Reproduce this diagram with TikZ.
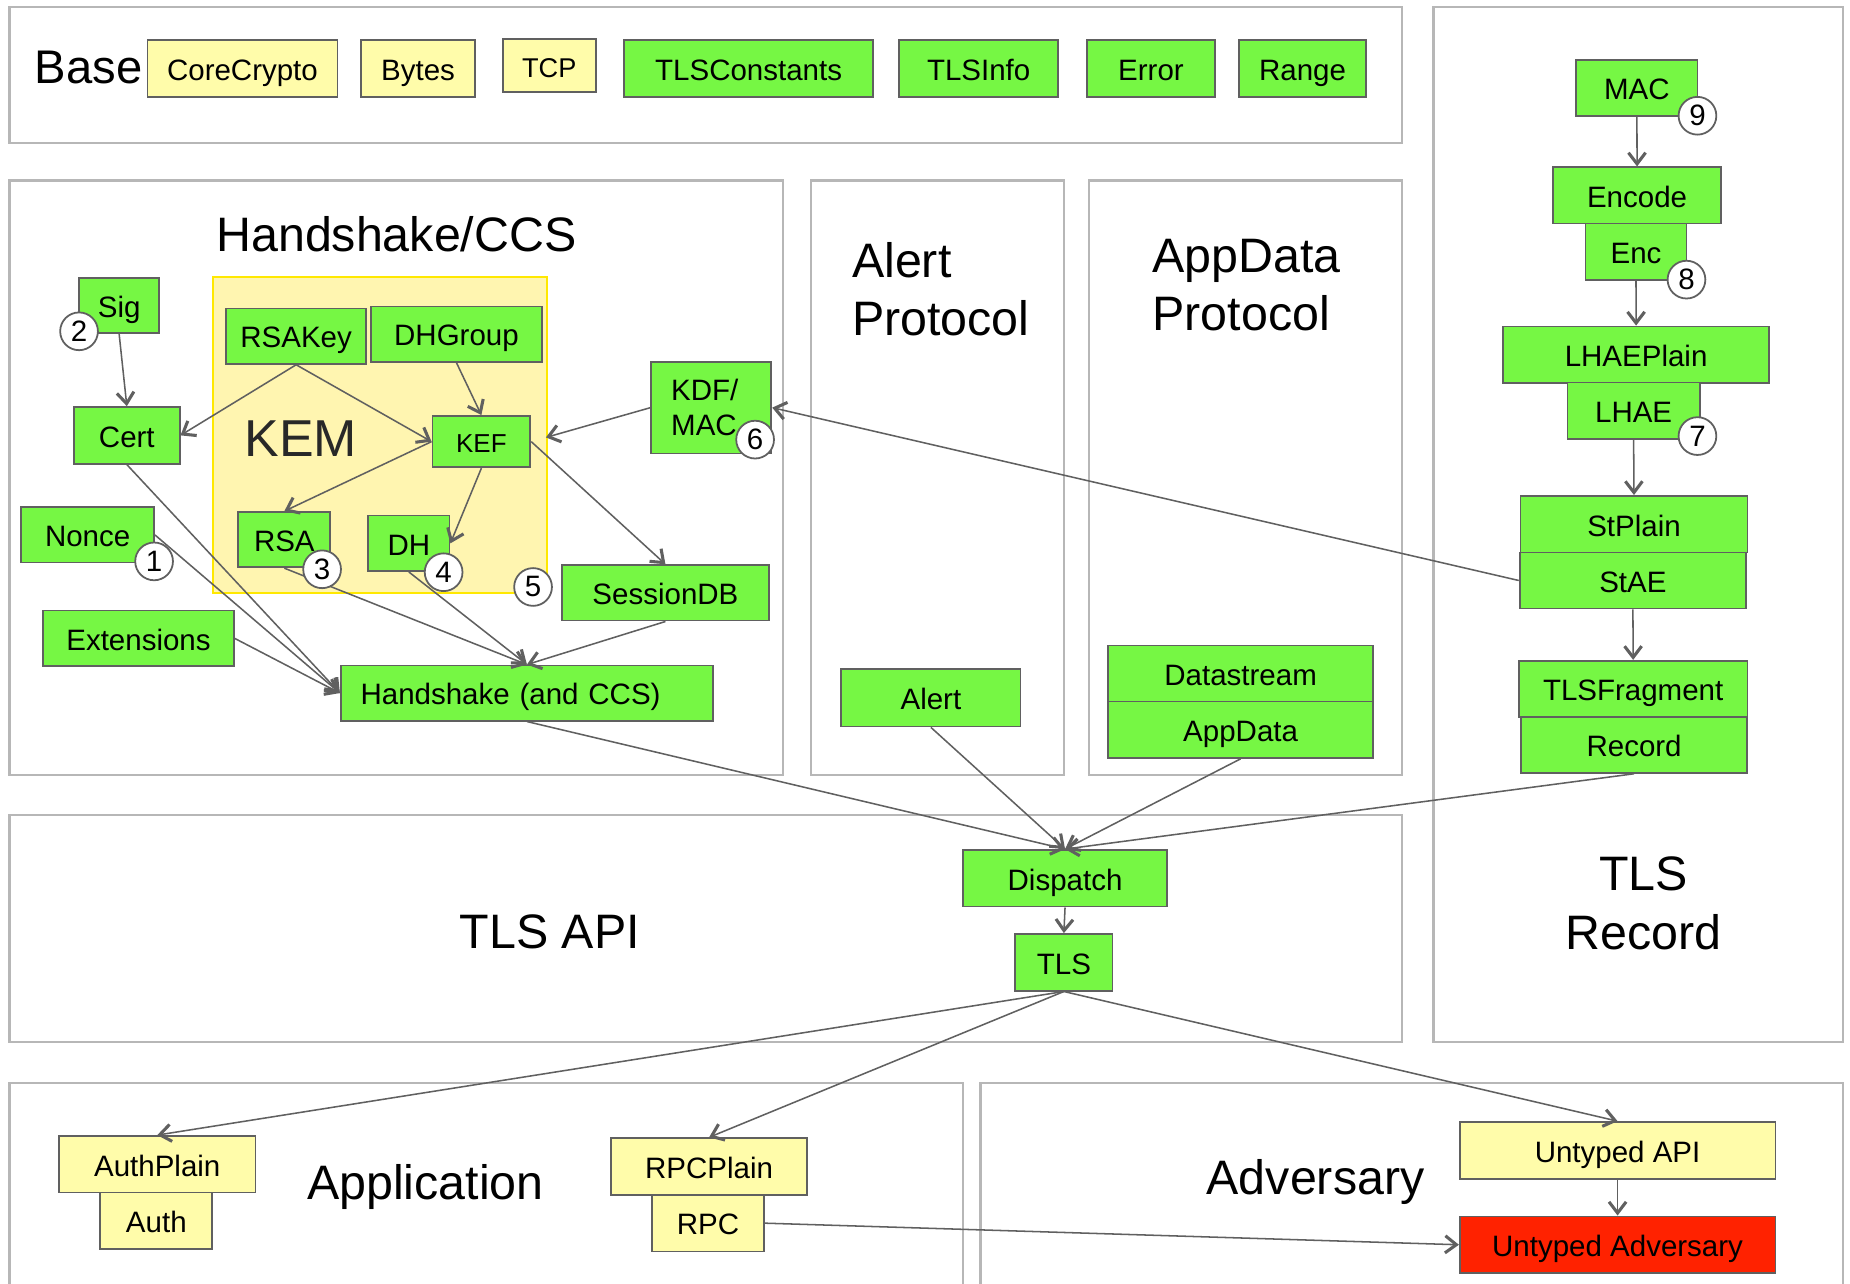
\documentclass[tikz,border=0pt]{standalone}
\usepackage{fontspec}
\setmainfont{Liberation Sans}
\usetikzlibrary{arrows.meta}
\definecolor{grn}{RGB}{118,247,68}
\definecolor{ylw}{RGB}{255,252,170}
\definecolor{kemfill}{RGB}{255,245,176}
\definecolor{kemedge}{RGB}{255,232,0}
\definecolor{advred}{RGB}{255,34,0}
\definecolor{edge}{RGB}{96,96,96}
\definecolor{panelgray}{RGB}{183,183,183}
\definecolor{kemtext}{RGB}{40,40,40}

\begin{document}
\begin{tikzpicture}[x=1pt,y=-1pt,
  panelbox/.style={draw=panelgray,line width=1.8pt},
  modbase/.style={draw=edge,line width=1.5pt,inner sep=0pt,font=\fontsize{25}{30}\selectfont},
  mod/.style={modbase,text height=20pt,text depth=0pt},
  gmod/.style={mod,fill=grn},
  ymod/.style={mod,fill=ylw},
  sz/.style n args={2}{minimum width=#1pt,minimum height=#2pt},
  title/.style={font=\fontsize{41}{49}\selectfont,inner sep=0pt,anchor=base},
  num/.style={circle,draw=edge,fill=white,line width=1.5pt,minimum size=32pt,inner sep=0pt,font=\fontsize{25}{30}\selectfont},
  dep/.style={draw=edge,line width=1.3pt,-{Straight Barb[length=9.5pt,width=14.5pt,line width=2.6pt]}},
]
\fill[white] (0,0) rectangle (1568,1088);
\useasboundingbox (0,0) rectangle (1568,1088);

% ---------- layer panels ----------
\draw[panelbox] (8,6) rectangle (1188,121);
\draw[panelbox] (8,153) rectangle (664,657);
\draw[panelbox] (687,153) rectangle (902,657);
\draw[panelbox] (923,153) rectangle (1188,657);
\draw[panelbox] (1215,6) rectangle (1562,883);
\draw[panelbox] (8,691) rectangle (1188,883);
\draw[panelbox] (8,918) rectangle (816,1100);
\draw[panelbox] (831,918) rectangle (1562,1100);

% key encapsulation group
\draw[draw=kemedge,fill=kemfill,line width=1.5pt] (180.7,234.6) rectangle (463.5,502.6);

% ---------- panel titles ----------
\node[title,font=\fontsize{40}{48}\selectfont] (tBase) at (75,71) {Base};
\node[title] (tHs) at (336,213) {Handshake/CCS};
\node[title,font=\fontsize{44}{52}\selectfont,text=kemtext] (tKem) at (255,387) {KEM};
\node[title,anchor=base west] (tAlert1) at (722,235) {Alert};
\node[title,anchor=base west] (tAlert2) at (722,284) {Protocol};
\node[title,anchor=base west] (tApp1) at (976.7,231) {AppData};
\node[title,anchor=base west] (tApp2) at (976.7,280) {Protocol};
\node[title] (tRec1) at (1393,755) {TLS};
\node[title] (tRec2) at (1393,804.5) {Record};
\node[title] (tApi) at (466,803.7) {TLS API};
\node[title] (tAppl) at (360.5,1017) {Application};
\node[title] (tAdv) at (1115,1012.7) {Adversary};

% ---------- Base ----------
\node[ymod,sz={161}{48}] (corecrypto) at (205.5,58) {CoreCrypto};
\node[ymod,sz={96.6}{48}] (bytes) at (354.3,58) {Bytes};
\node[ymod,sz={79}{44.4},font=\fontsize{23}{28}\selectfont] (tcp) at (465.5,55.5) {TCP};
\node[gmod,sz={211}{48}] (tlsconst) at (634.5,58) {TLSConstants};
\node[gmod,sz={135}{48}] (tlsinfo) at (829.5,58) {TLSInfo};
\node[gmod,sz={109}{48}] (error) at (975.5,58) {Error};
\node[gmod,sz={108}{48}] (range) at (1104,58) {Range};

% ---------- Handshake/CCS ----------
\node[gmod,sz={68}{47}] (sig) at (101,259) {Sig};
\node[gmod,sz={119}{47}] (rsakey) at (251,284.9) {RSAKey};
\node[gmod,sz={144.4}{47}] (dhgroup) at (386.9,283.2) {DHGroup};
\node[gmod,sz={89.5}{48}] (cert) at (107.5,369) {Cert};
\node[gmod,sz={83}{43.5},font=\fontsize{22}{26}\selectfont,text height=18pt] (kef) at (408,374.3) {KEF};
\node[modbase,fill=grn,sz={101.7}{77.6},text width=68pt,align=left] (kdf) at (602.9,345.5) {KDF/\\MAC};
\node[gmod,sz={112.6}{46.8}] (nonce) at (74.3,453.4) {Nonce};
\node[gmod,sz={78}{46.8}] (rsa) at (241,457.4) {RSA};
\node[gmod,sz={69}{47}] (dh) at (346.5,460.5) {DH};
\node[gmod,sz={175}{47}] (sessiondb) at (564,502.5) {SessionDB};
\node[gmod,sz={161.3}{47}] (ext) at (117.4,541) {Extensions};
\node[gmod,sz={315.6}{46.8},text width=282pt,align=left] (hs) at (446.6,587.4) {Handshake (and CCS)};

% ---------- Alert / AppData ----------
\node[gmod,sz={152}{48.7}] (alert) at (789,591.4) {Alert};
\node[gmod,sz={225}{47.6}] (datastream) at (1051.5,570.8) {Datastream};
\node[gmod,sz={225}{47.8}] (appdata) at (1051.5,618.5) {AppData};

% ---------- TLS Record ----------
\node[gmod,sz={102.7}{47.5}] (mac) at (1387.4,74.4) {MAC};
\node[gmod,sz={142}{47.6}] (encode) at (1387.5,165.6) {Encode};
\node[gmod,sz={85.6}{47.6}] (enc) at (1386.6,213.2) {Enc};
\node[gmod,sz={225.4}{47.6}] (lhaeplain) at (1386.7,300.5) {LHAEPlain};
\node[gmod,sz={112.2}{47.5}] (lhae) at (1384.6,348) {LHAE};
\node[gmod,sz={192.3}{48}] (stplain) at (1384.9,444.3) {StPlain};
\node[gmod,sz={192}{47.5}] (stae) at (1384,492) {StAE};
\node[gmod,sz={193.7}{47.5}] (tlsfrag) at (1384.2,583.8) {TLSFragment};
\node[gmod,sz={192}{47.5}] (record) at (1385,631.3) {Record};

% ---------- TLS API ----------
\node[gmod,sz={172.6}{48}] (dispatch) at (902.7,744.4) {Dispatch};
\node[gmod,sz={82.6}{48}] (tls) at (901.7,815.6) {TLS};

% ---------- Application / Adversary ----------
\node[ymod,sz={166.5}{48}] (authplain) at (133.3,986.8) {AuthPlain};
\node[ymod,sz={95}{48}] (auth) at (132.5,1034.8) {Auth};
\node[ymod,sz={166}{48}] (rpcplain) at (601,988.7) {RPCPlain};
\node[ymod,sz={95}{48}] (rpc) at (600,1036.7) {RPC};
\node[ymod,sz={267.5}{48}] (uapi) at (1371,975) {Untyped API};
\node[mod,fill=advred,sz={267.5}{48}] (uadv) at (1371,1055) {Untyped Adversary};

% ---------- dependencies ----------
\draw[dep] (sig.south) -- (cert.north);
\draw[dep] (rsakey.south) -- (cert.east);
\draw[dep] (rsakey.south) -- (kef.west);
\draw[dep] (dhgroup.south) -- (kef.north);
\draw[dep,shorten >=13pt] (kdf.west) -- (kef.east);
\draw[dep] (kef.west) -- (rsa.north);
\draw[dep] (kef.south) -- (dh.east);
\draw[dep] (kef.east) -- (sessiondb.north);
\draw[dep] (cert.south) -- (hs.west);
\draw[dep] (nonce.east) -- (hs.west);
\draw[dep] (ext.east) -- (hs.west);
\draw[dep] (rsa.south) -- (hs.north);
\draw[dep] (dh.south) -- (hs.north);
\draw[dep] (sessiondb.south) -- (hs.north);

\draw[dep] (mac.south) -- (encode.north);
\draw[dep] (enc.south) -- (lhaeplain.north);
\draw[dep] (lhae.south) -- (stplain.north);
\draw[dep] (stae.south) -- (tlsfrag.north);
\draw[dep] (stae.west) -- (kdf.east);

\draw[dep] (hs.south) -- (dispatch.north);
\draw[dep] (alert.south) -- (dispatch.north);
\draw[dep] (appdata.south) -- (dispatch.north);
\draw[dep] (record.south) -- (dispatch.north);
\draw[dep] (dispatch.south) -- (tls.north);
\draw[dep] (tls.south) -- (authplain.north);
\draw[dep] (tls.south) -- (rpcplain.north);
\draw[dep] (tls.south) -- (uapi.north);
\draw[dep] (uapi.south) -- (uadv.north);
\draw[dep] (rpc.east) -- (uadv.west);

% ---------- numbered markers ----------
\node[num] (n1) at (130.6,475.8) {1};
\node[num] (n2) at (67,280.8) {2};
\node[num] (n3) at (273,482.5) {3};
\node[num] (n4) at (376,485) {4};
\node[num] (n5) at (451.8,497.5) {5};
\node[num] (n6) at (640,372.6) {6};
\node[num] (n7) at (1438.7,369.6) {7};
\node[num] (n8) at (1429.4,237) {8};
\node[num] (n9) at (1438.7,98.1) {9};
\end{tikzpicture}
\end{document}
